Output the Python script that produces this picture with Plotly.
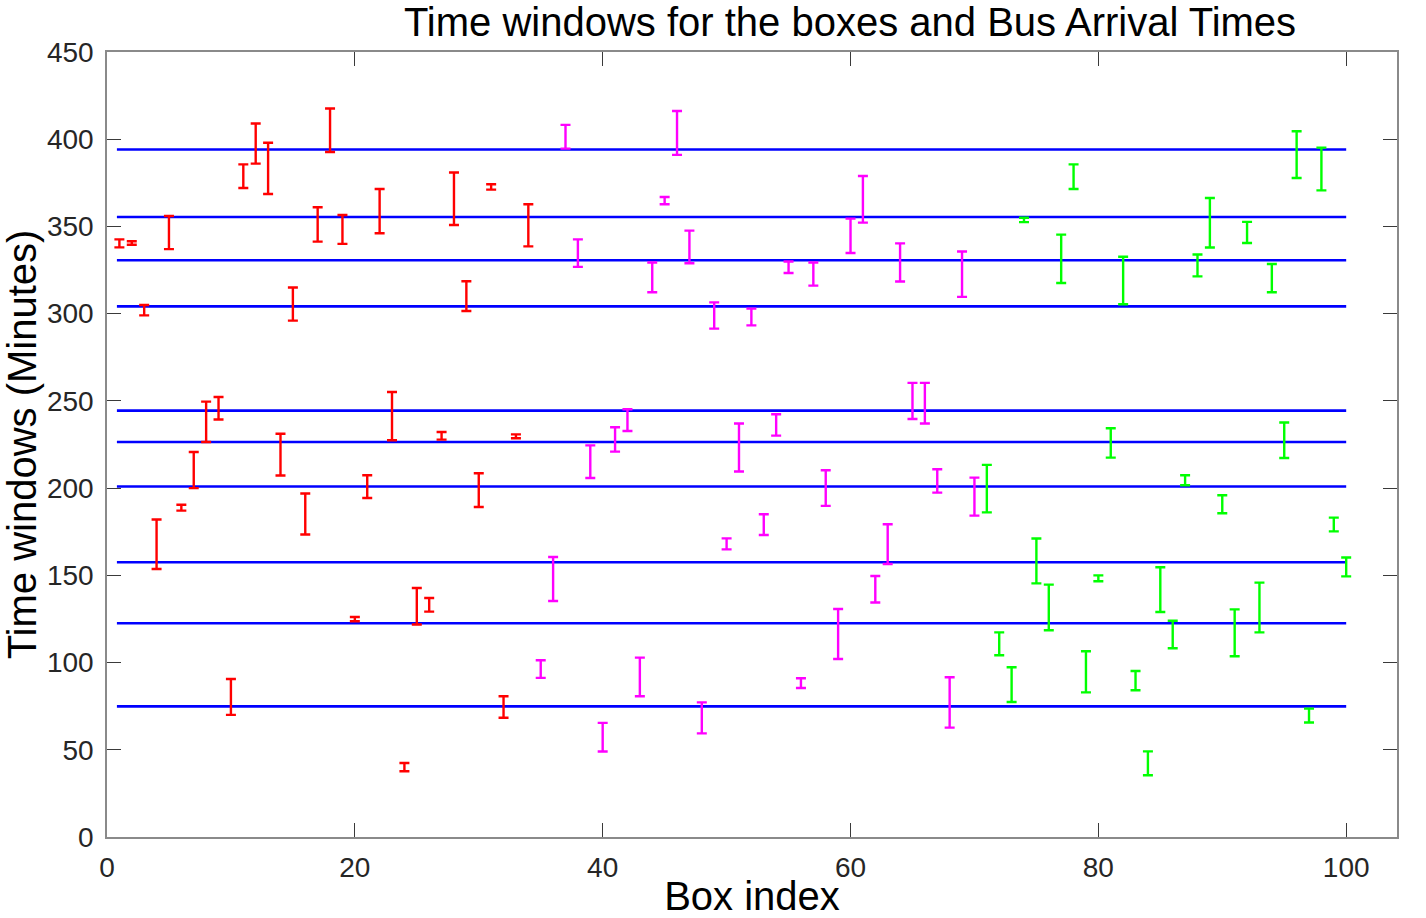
import plotly.graph_objects as go

# ---- data (minutes) ----
red_idx = list(range(1, 35))
red_low = [338, 339.5, 299, 153.6, 337, 187.1, 200, 226.4, 239.3, 70,
           372, 386, 368.6, 207.2, 296, 173.4, 341.3, 392.7, 340, 123.7,
           194.3, 346.1, 227.4, 37.7, 121.8, 129.2, 227.8, 350.8, 301.5, 189.2,
           371.1, 68.4, 228.6, 338.6]
red_high = [342.6, 341.5, 305, 182, 356, 190.5, 220.7, 249.6, 252.2, 90.6,
            385.6, 409, 398, 231.2, 315, 196.9, 361, 417.6, 356.6, 126.1,
            207.4, 371.5, 255.1, 42.4, 142.7, 137, 232.2, 380.9, 318.6, 208.5,
            374.2, 80.7, 230.8, 362.7]

mag_idx = list(range(35, 71))
mag_low = [91.2, 135.3, 394.6, 326.8, 205.8, 49, 220.9, 232.7, 80.7, 312.3,
           362.7, 391, 328.9, 59.4, 291.4, 164.9, 209.5, 293.3, 173.1, 230.1,
           323.3, 85.4, 316.1, 189.8, 102, 334.8, 352.2, 134.4, 156.5, 318.4,
           239.6, 237, 197.4, 62.7, 309.6, 184.2]
mag_high = [101.3, 160.5, 408.2, 342.6, 224.5, 65.4, 234.9, 245.2, 102.8, 329.3,
            366.9, 416.2, 347.6, 77.2, 306.5, 171.2, 237, 302.9, 185, 242.3,
            329.9, 91, 329.3, 210.2, 130.7, 354.5, 378.9, 149.6, 179.3, 340.3,
            260.3, 260.3, 210.8, 91.6, 335.6, 206]

grn_idx = list(range(71, 101))
grn_low = [186.1, 104.2, 77.4, 352.5, 145.4, 118.5, 317.6, 371.5, 82.9, 146.6,
           217.5, 305.4, 84.1, 35.4, 129, 108.2, 201.6, 321.4, 337.9, 185.6,
           103.6, 340.5, 117.3, 312.3, 217.3, 377.8, 65.6, 370.7, 175.2, 149.4]
grn_high = [213.3, 117.3, 97.3, 355, 171.1, 144.7, 345.3, 385.6, 106.5, 150,
            234.3, 332.6, 95.2, 49.1, 154.6, 124, 207.4, 333.9, 366.3, 195.9,
            130.5, 352.6, 145.8, 328.5, 237.6, 404.6, 73.6, 395.2, 183.1, 160.2]

bus_times = [74.9, 122.5, 157.5, 200.9, 226.4, 244.4, 304.2, 330.6, 355.4, 394.1]
bus_x_span = [0.8, 100]

x_ticks = [0, 20, 40, 60, 80, 100]
y_ticks = [0, 50, 100, 150, 200, 250, 300, 350, 400, 450]

FONT = "Liberation Sans, Arial, sans-serif"

fig = go.Figure()

# bus arrival lines
bx, by = [], []
for t in bus_times:
    bx += [bus_x_span[0], bus_x_span[1], None]
    by += [t, t, None]
fig.add_trace(go.Scatter(x=bx, y=by, mode="lines",
                         line=dict(color="#0000FF", width=2.6),
                         hoverinfo="skip", showlegend=False))

def add_windows(idx, low, high, color):
    mids = [(l + h) / 2 for l, h in zip(low, high)]
    half = [(h - l) / 2 for l, h in zip(low, high)]
    fig.add_trace(go.Scatter(
        x=idx, y=mids, mode="markers",
        marker=dict(size=1, color="rgba(0,0,0,0)"),
        error_y=dict(type="data", array=half, symmetric=True,
                     color=color, thickness=2.4, width=5),
        showlegend=False))

add_windows(red_idx, red_low, red_high, "#FF0000")
add_windows(mag_idx, mag_low, mag_high, "#FF00FF")
add_windows(grn_idx, grn_low, grn_high, "#00FF00")

axis_common = dict(
    showgrid=False, zeroline=False,
    showline=True, linecolor="#8a8a8a", linewidth=1.5, mirror="allticks",
    ticks="inside", ticklen=14, tickwidth=1.3, tickcolor="#3a3a3a",
    tickfont=dict(family=FONT, size=28, color="#262626"),
)

fig.update_xaxes(range=[0, 104.1], tickvals=x_ticks,
                 title=dict(text="Box index", font=dict(family=FONT, size=40, color="#000000"),
                            standoff=0),
                 ticklabelstandoff=5,
                 **axis_common)
fig.update_yaxes(range=[0, 450], tickvals=y_ticks,
                 title=dict(text="Time windows (Minutes)", font=dict(family=FONT, size=40, color="#000000"),
                            standoff=4),
                 ticklabelstandoff=6,
                 **axis_common)

fig.update_layout(
    width=1426, height=918,
    margin=dict(l=107, r=29, t=52, b=81, autoexpand=False),
    paper_bgcolor="white", plot_bgcolor="white",
    title=dict(text="Time windows for the boxes and Bus Arrival Times",
               font=dict(family=FONT, size=40, color="#000000"),
               x=850 / 1426, xref="container", xanchor="center",
               y=1 - 22 / 918, yref="container", yanchor="middle"),
)

fig.write_html("out.html",
               config={"displayModeBar": False},
               post_script="document.body.style.margin='0';document.body.style.padding='0';")
